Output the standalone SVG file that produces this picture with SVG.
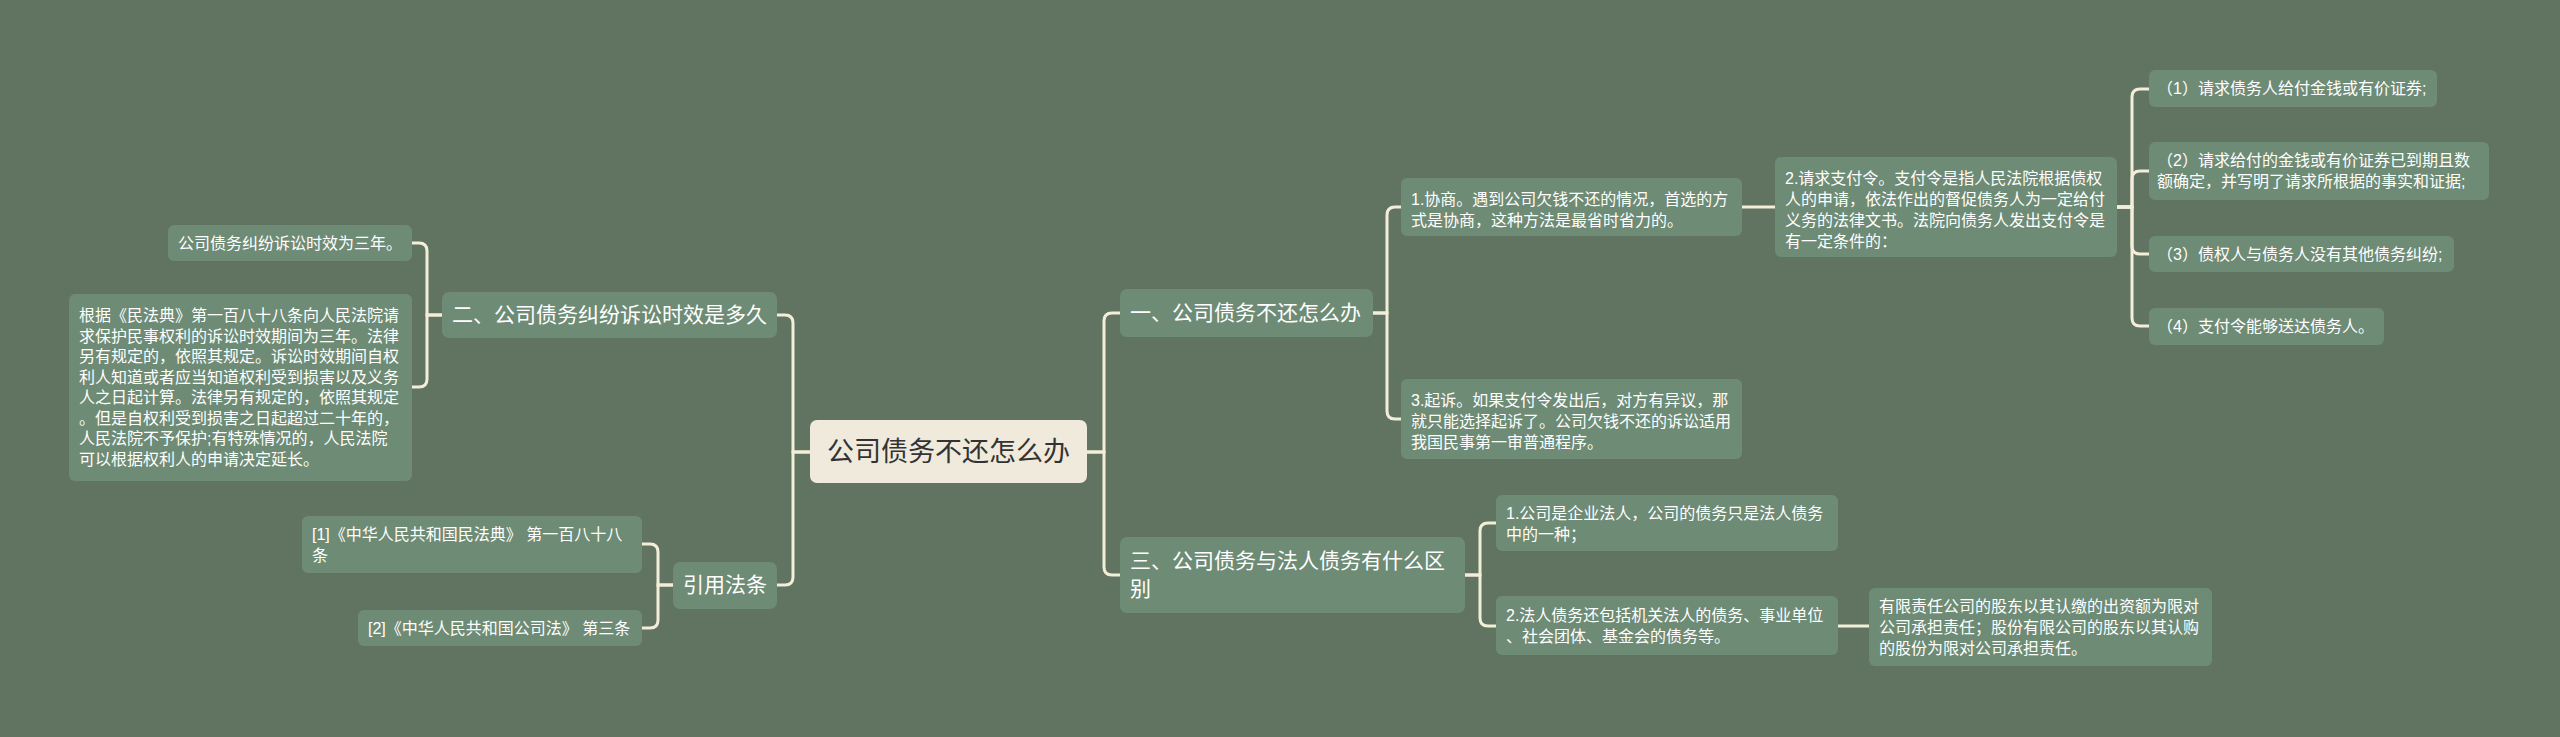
<svg xmlns="http://www.w3.org/2000/svg" width="2560" height="737" viewBox="0 0 2560 737">
<style>
.bg{fill:#617462}
.n{fill:#6e8b75}
.root{fill:#efeadb}
.t{font-family:"Liberation Sans","Noto Sans CJK SC",sans-serif;fill:#ffffff}
.s{font-size:16px}
.m{font-size:21px}
.r{font-size:27px;fill:#333333}
.c{fill:none;stroke:#f3eed8;stroke-width:3;stroke-linecap:round}
</style>
<rect class="bg" x="0" y="0" width="2560" height="737"/>
<g id="connectors">
<path class="c" d="M1087,452 H1104 V321 Q1104,313 1112,313 H1120"/>
<path class="c" d="M1087,452 H1104 V567 Q1104,575 1112,575 H1120"/>
<path class="c" d="M810,452 H793 V323 Q793,315 785,315 H777"/>
<path class="c" d="M810,452 H793 V577 Q793,585 785,585 H777"/>
<path class="c" d="M442,315 H427 V251 Q427,243 419,243 H411"/>
<path class="c" d="M442,315 H427 V379 Q427,387 419,387 H411"/>
<path class="c" d="M673,585 H658 V552 Q658,544 650,544 H642"/>
<path class="c" d="M673,585 H658 V620 Q658,628 650,628 H642"/>
<path class="c" d="M1373,313 H1387 V215 Q1387,207 1395,207 H1401"/>
<path class="c" d="M1373,313 H1387 V411 Q1387,419 1395,419 H1401"/>
<path class="c" d="M1742,207 H1775"/>
<path class="c" d="M2117,207 H2132 V97 Q2132,89 2140,89 H2149"/>
<path class="c" d="M2117,207 H2132 V179 Q2132,171 2140,171 H2149"/>
<path class="c" d="M2117,207 H2132 V246 Q2132,254 2140,254 H2149"/>
<path class="c" d="M2117,207 H2132 V318 Q2132,326 2140,326 H2149"/>
<path class="c" d="M1465,575 H1480 V531 Q1480,523 1488,523 H1496"/>
<path class="c" d="M1465,575 H1480 V618 Q1480,626 1488,626 H1496"/>
<path class="c" d="M1838,626 H1869"/>
</g>
<g id="root">
<rect class="root" x="810" y="420" width="277" height="63" rx="7"/>
<text class="t r" x="948.5" y="461" text-anchor="middle">公司债务不还怎么办</text>
</g>
<g id="n-yi">
<rect class="n" x="1120" y="289" width="253" height="48" rx="7"/>
<text class="t m" x="1130" y="320">一、公司债务不还怎么办</text>
</g>
<g id="n-san">
<rect class="n" x="1120" y="537" width="345" height="76" rx="7"/>
<text class="t m"><tspan x="1130" y="568">三、公司债务与法人债务有什么区</tspan><tspan x="1130" y="596">别</tspan></text>
</g>
<g id="n-er">
<rect class="n" x="442" y="292" width="335" height="46" rx="7"/>
<text class="t m" x="452" y="322">二、公司债务纠纷诉讼时效是多久</text>
</g>
<g id="n-yinyong">
<rect class="n" x="673" y="562" width="104" height="47" rx="7"/>
<text class="t m" x="683" y="592">引用法条</text>
</g>
<g id="l-sannian">
<rect class="n" x="168" y="225" width="244" height="36" rx="6"/>
<text class="t s" x="178" y="249">公司债务纠纷诉讼时效为三年。</text>
</g>
<g id="l-minfadian">
<rect class="n" x="69" y="294" width="343" height="187" rx="6"/>
<text class="t s">
<tspan x="79" y="321">根据《民法典》第一百八十八条向人民法院请</tspan>
<tspan x="79" y="341.5">求保护民事权利的诉讼时效期间为三年。法律</tspan>
<tspan x="79" y="362">另有规定的，依照其规定。诉讼时效期间自权</tspan>
<tspan x="79" y="382.5">利人知道或者应当知道权利受到损害以及义务</tspan>
<tspan x="79" y="403">人之日起计算。法律另有规定的，依照其规定</tspan>
<tspan x="79" y="423.5">。但是自权利受到损害之日起超过二十年的，</tspan>
<tspan x="79" y="444">人民法院不予保护;有特殊情况的，人民法院</tspan>
<tspan x="79" y="464.5">可以根据权利人的申请决定延长。</tspan>
</text>
</g>
<g id="l-ref1">
<rect class="n" x="302" y="516" width="340" height="57" rx="6"/>
<text class="t s"><tspan x="312" y="540">[1]《中华人民共和国民法典》 第一百八十八</tspan><tspan x="312" y="561">条</tspan></text>
</g>
<g id="l-ref2">
<rect class="n" x="358" y="610" width="284" height="36" rx="6"/>
<text class="t s" x="368" y="634">[2]《中华人民共和国公司法》 第三条</text>
</g>
<g id="l-xieshang">
<rect class="n" x="1401" y="178" width="341" height="58" rx="6"/>
<text class="t s"><tspan x="1411" y="205">1.协商。遇到公司欠钱不还的情况，首选的方</tspan><tspan x="1411" y="226">式是协商，这种方法是最省时省力的。</tspan></text>
</g>
<g id="l-qisu">
<rect class="n" x="1401" y="379" width="341" height="80" rx="6"/>
<text class="t s"><tspan x="1411" y="406">3.起诉。如果支付令发出后，对方有异议，那</tspan><tspan x="1411" y="427">就只能选择起诉了。公司欠钱不还的诉讼适用</tspan><tspan x="1411" y="448">我国民事第一审普通程序。</tspan></text>
</g>
<g id="l-zhifuling">
<rect class="n" x="1775" y="157" width="342" height="100" rx="6"/>
<text class="t s"><tspan x="1785" y="184">2.请求支付令。支付令是指人民法院根据债权</tspan><tspan x="1785" y="205">人的申请，依法作出的督促债务人为一定给付</tspan><tspan x="1785" y="226">义务的法律文书。法院向债务人发出支付令是</tspan><tspan x="1785" y="247">有一定条件的：</tspan></text>
</g>
<g id="l-c1">
<rect class="n" x="2149" y="70" width="288" height="37" rx="6"/>
<text class="t s" x="2157" y="94">（1）请求债务人给付金钱或有价证券;</text>
</g>
<g id="l-c2">
<rect class="n" x="2149" y="142" width="340" height="58" rx="6"/>
<text class="t s"><tspan x="2157" y="166">（2）请求给付的金钱或有价证券已到期且数</tspan><tspan x="2157" y="187">额确定，并写明了请求所根据的事实和证据;</tspan></text>
</g>
<g id="l-c3">
<rect class="n" x="2149" y="236" width="305" height="36" rx="6"/>
<text class="t s" x="2157" y="260">（3）债权人与债务人没有其他债务纠纷;</text>
</g>
<g id="l-c4">
<rect class="n" x="2149" y="308" width="235" height="37" rx="6"/>
<text class="t s" x="2157" y="332">（4）支付令能够送达债务人。</text>
</g>
<g id="l-qiye">
<rect class="n" x="1496" y="495" width="342" height="56" rx="6"/>
<text class="t s"><tspan x="1506" y="519">1.公司是企业法人，公司的债务只是法人债务</tspan><tspan x="1506" y="540">中的一种；</tspan></text>
</g>
<g id="l-faren">
<rect class="n" x="1496" y="596" width="342" height="59" rx="6"/>
<text class="t s"><tspan x="1506" y="621">2.法人债务还包括机关法人的债务、事业单位</tspan><tspan x="1506" y="642">、社会团体、基金会的债务等。</tspan></text>
</g>
<g id="l-youxian">
<rect class="n" x="1869" y="588" width="343" height="78" rx="6"/>
<text class="t s"><tspan x="1879" y="612">有限责任公司的股东以其认缴的出资额为限对</tspan><tspan x="1879" y="633">公司承担责任；股份有限公司的股东以其认购</tspan><tspan x="1879" y="654">的股份为限对公司承担责任。</tspan></text>
</g>
</svg>
